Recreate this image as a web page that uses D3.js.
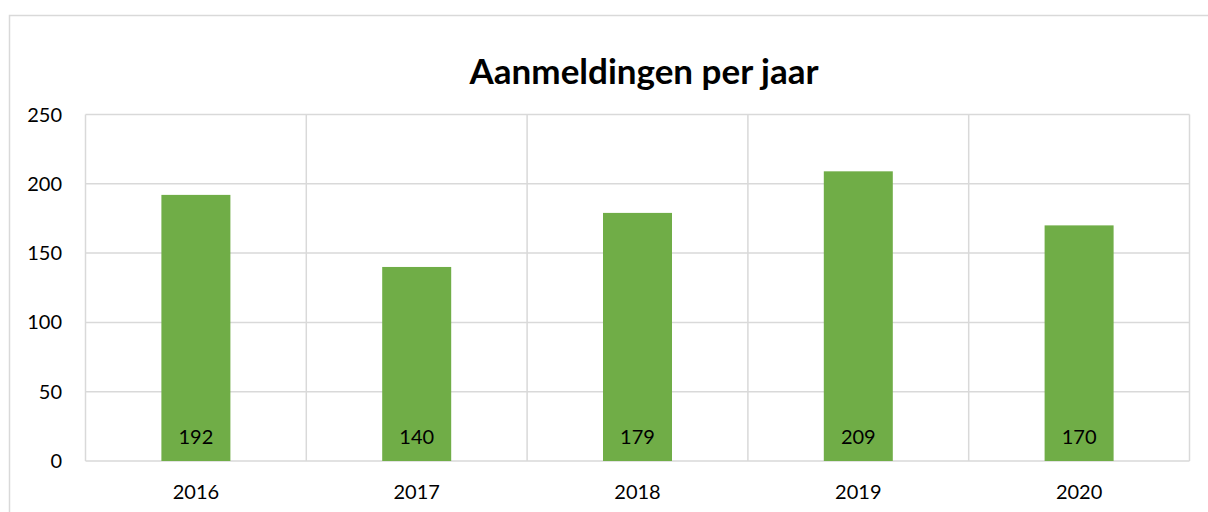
<!DOCTYPE html>
<html>
<head>
<meta charset="utf-8">
<script src="https://cdn.jsdelivr.net/npm/d3@7"></script>
<style>
  body { margin: 0; background: #fff; }
  svg text { font-family: Lato, "Open Sans", sans-serif; fill: #000; }
</style>
</head>
<body>
<figure id="chart" style="margin:0"></figure>
<script>
const years = ['2016', '2017', '2018', '2019', '2020'];
const aanmeldingen = [192, 140, 179, 209, 170];
const yTicks = [0, 50, 100, 150, 200, 250];
const title = 'Aanmeldingen per jaar';

const width = 1208, height = 512;
const plot = { left: 85.5, right: 1189.5, top: 114.5, bottom: 461 };
const grid = '#d9d9d9';

const svg = d3.select('figure#chart')
  .append('svg')
  .attr('width', width)
  .attr('height', height);

// chart border
svg.append('rect')
  .attr('x', 9.5).attr('y', 15.5)
  .attr('width', 1210).attr('height', 520)
  .attr('fill', 'none')
  .attr('stroke', grid)
  .attr('stroke-width', 1.5);

svg.append('text')
  .attr('x', 644).attr('y', 84)
  .attr('text-anchor', 'middle')
  .style('font-size', '35px')
  .style('font-weight', 'bold')
  .text(title);

const x = d3.scaleBand()
  .domain(years)
  .range([plot.left, plot.right])
  .paddingInner(0.6875)
  .paddingOuter(0.34375);

const y = d3.scaleLinear()
  .domain([0, 250])
  .range([plot.bottom, plot.top]);

// horizontal grid
svg.append('g')
  .selectAll('line')
  .data(yTicks)
  .enter()
  .append('line')
  .attr('x1', plot.left).attr('x2', plot.right)
  .attr('y1', d => y(d)).attr('y2', d => y(d))
  .attr('stroke', grid)
  .attr('stroke-width', 1.5);

// vertical grid at category boundaries
const step = (plot.right - plot.left) / years.length;
svg.append('g')
  .selectAll('line')
  .data(d3.range(years.length + 1))
  .enter()
  .append('line')
  .attr('x1', i => plot.left + i * step).attr('x2', i => plot.left + i * step)
  .attr('y1', plot.top).attr('y2', plot.bottom)
  .attr('stroke', grid)
  .attr('stroke-width', 1.5);

// y axis labels
svg.append('g')
  .selectAll('text')
  .data(yTicks)
  .enter()
  .append('text')
  .attr('x', 62)
  .attr('y', d => y(d))
  .attr('dy', '0.35em')
  .attr('text-anchor', 'end')
  .style('font-size', '20px')
  .text(d => d);

// x axis labels
svg.append('g')
  .selectAll('text')
  .data(years)
  .enter()
  .append('text')
  .attr('x', d => x(d) + x.bandwidth() / 2)
  .attr('y', 492)
  .attr('dy', '0.35em')
  .attr('text-anchor', 'middle')
  .style('font-size', '20px')
  .text(d => d);

const data = years.map((yr, i) => ({ year: yr, value: aanmeldingen[i] }));

svg.append('g')
  .selectAll('rect')
  .data(data)
  .enter()
  .append('rect')
  .attr('x', d => x(d.year))
  .attr('y', d => y(d.value))
  .attr('width', x.bandwidth())
  .attr('height', d => y(0) - y(d.value))
  .attr('fill', '#70ad47');

svg.append('g')
  .selectAll('text')
  .data(data)
  .enter()
  .append('text')
  .attr('x', d => x(d.year) + x.bandwidth() / 2)
  .attr('y', 437)
  .attr('dy', '0.35em')
  .attr('text-anchor', 'middle')
  .style('font-size', '20px')
  .text(d => d.value);
</script>
</body>
</html>
